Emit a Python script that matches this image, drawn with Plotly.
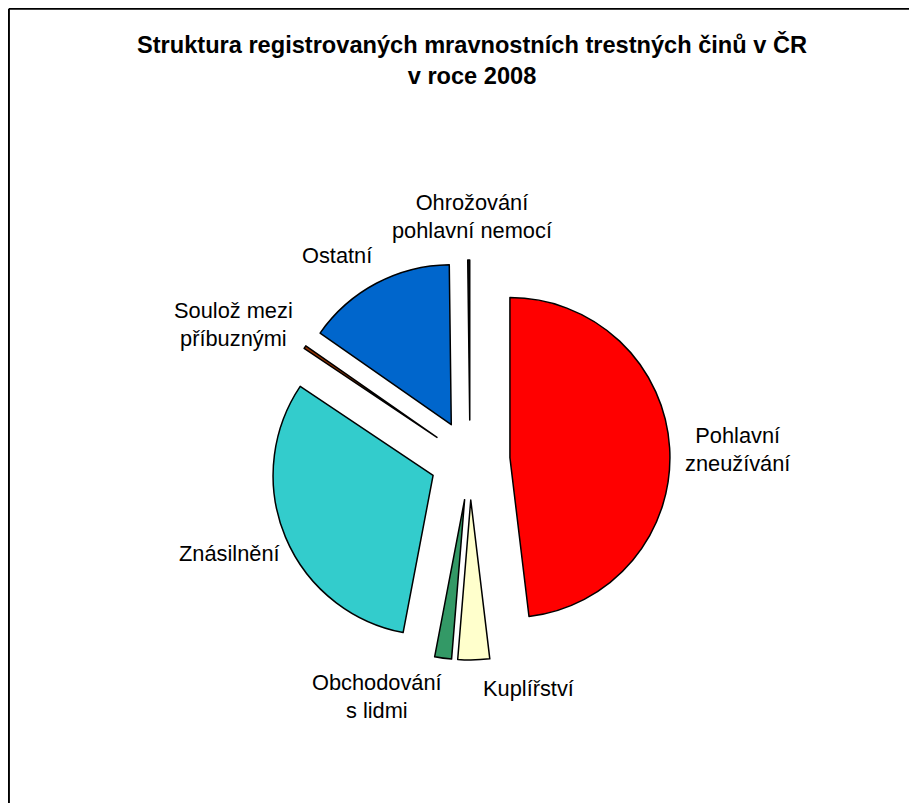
import plotly.graph_objects as go

# Data (percent shares)
categories = [
    "Pohlavní zneužívání",
    "Kuplířství",
    "Obchodování s lidmi",
    "Znásilnění",
    "Soulož mezi příbuznými",
    "Ostatní",
    "Ohrožování pohlavní nemocí",
]
shares = [48.1, 3.2, 1.7, 31.4, 0.3, 15.1, 0.2]
label_texts = [
    "Pohlavní<br>zneužívání",
    "Kuplířství",
    "Obchodování<br>s lidmi",
    "Znásilnění",
    "Soulož mezi<br>příbuznými",
    "Ostatní",
    "Ohrožování<br>pohlavní nemocí",
]
colors = ["#FF0000", "#FFFFCC", "#339966", "#33CCCC", "#993300", "#0066CC", "#111111"]

# Label positions in page pixels (layout only); page has an 8px body margin
OFF = 8
label_px = [(737, 449), (528, 688), (377, 696), (229, 553), (233, 324), (337, 255), (472, 217)]

W, H = 917, 803
FONT = "Liberation Sans, Arial, sans-serif"

cx, cy, box = 470 - OFF, 460 - OFF, 400

fig = go.Figure(
    go.Pie(
        labels=categories,
        values=shares,
        sort=False,
        direction="clockwise",
        rotation=0,
        pull=[0.25] * len(shares),
        marker=dict(colors=colors, line=dict(color="#000000", width=1.5)),
        textinfo="none",
        hoverinfo="label+percent",
        showlegend=False,
        domain=dict(x=[(cx - box / 2) / W, (cx + box / 2) / W],
                    y=[1 - (cy + box / 2) / H, 1 - (cy - box / 2) / H]),
    )
)

annotations = []
for txt, (px, py) in zip(label_texts, label_px):
    annotations.append(
        dict(
            text=txt, x=(px - OFF) / W, y=1 - (py - OFF) / H, xref="paper", yref="paper",
            xanchor="center", yanchor="middle", showarrow=False,
            font=dict(family=FONT, size=21.8, color="#000000"),
        )
    )
annotations.append(
    dict(
        text="<b>Struktura registrovaných mravnostních trestných činů v ČR<br>v roce 2008</b>",
        x=(472 - OFF) / W, y=1 - (60 - OFF) / H, xref="paper", yref="paper",
        xanchor="center", yanchor="middle", showarrow=False,
        font=dict(family=FONT, size=23.6, color="#000000"),
    )
)

fig.update_layout(
    width=W, height=H,
    margin=dict(l=0, r=0, t=0, b=0),
    paper_bgcolor="#FFFFFF",
    plot_bgcolor="#FFFFFF",
    annotations=annotations,
    shapes=[
        dict(type="line", xref="paper", yref="paper",
             x0=0.001, x1=1.0, y0=0.999, y1=0.999,
             line=dict(color="#000000", width=2)),
        dict(type="line", xref="paper", yref="paper",
             x0=0.001, x1=0.001, y0=0.0, y1=0.999,
             line=dict(color="#000000", width=2)),
    ],
)

fig.write_html("out.html")
